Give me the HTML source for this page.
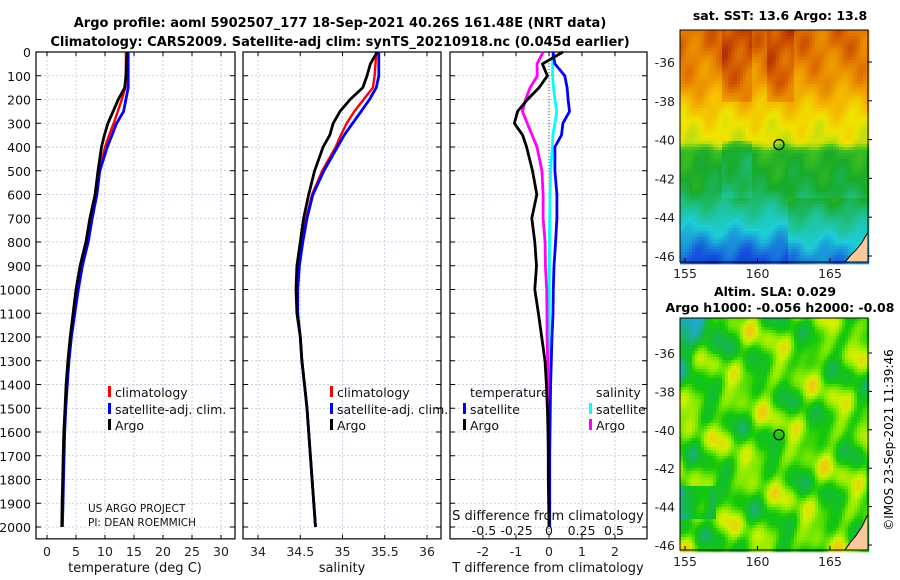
<!DOCTYPE html>
<html><head><meta charset="utf-8"><style>
body{margin:0;background:#fff;}
svg{display:block;font-family:"DejaVu Sans","Liberation Sans",sans-serif;}
</style></head><body>
<svg id="c" width="900" height="580" viewBox="0 0 900 580">
<text x="340" y="27" text-anchor="middle" font-size="13" font-weight="bold">Argo profile: aoml 5902507_177 18-Sep-2021 40.26S 161.48E (NRT data)</text>
<text x="340" y="46" text-anchor="middle" font-size="13" font-weight="bold">Climatology: CARS2009. Satellite-adj clim: synTS_20210918.nc (0.045d earlier)</text>
<text x="780" y="20" text-anchor="middle" font-size="12.5" font-weight="bold">sat. SST: 13.6 Argo: 13.8</text>
<text x="775" y="296" text-anchor="middle" font-size="12.5" font-weight="bold">Altim. SLA: 0.029</text>
<text x="780" y="312" text-anchor="middle" font-size="12.5" font-weight="bold">Argo h1000: -0.056 h2000: -0.08</text>
<text transform="translate(893,440) rotate(-90)" text-anchor="middle" font-size="12">©IMOS 23-Sep-2021 11:39:46</text>
<g id="g"></g>
</svg>
<script>
// depth levels (m)
const depthT = [0,50,100,150,200,250,300,350,400,500,600,700,800,900,1000,1100,1200,1300,1400,1500,1600,1700,1800,1900,2000];
const tempArgo = [13.8,13.7,13.6,13.4,12.3,11.4,10.5,9.9,9.4,8.8,8.3,7.4,6.7,5.7,5.0,4.5,4.0,3.6,3.3,3.1,2.9,2.8,2.7,2.6,2.55];
const tempClim = [13.6,13.6,13.6,13.5,12.9,12.2,11.5,10.7,10.0,9.0,8.4,7.6,6.9,5.9,5.2,4.6,4.1,3.7,3.4,3.2,3.0,2.9,2.8,2.7,2.6];
const tempSat = [14.0,14.0,14.0,14.0,13.6,13.2,12.0,11.2,10.4,9.1,8.6,7.8,7.1,6.1,5.4,4.8,4.2,3.8,3.5,3.25,3.05,2.95,2.85,2.75,2.65];
const salArgo = [35.41,35.33,35.29,35.24,35.09,34.97,34.89,34.85,34.77,34.67,34.60,34.54,34.50,34.46,34.45,34.46,34.50,34.52,34.55,34.58,34.60,34.62,34.64,34.66,34.68];
const salClim = [35.40,35.39,35.38,35.36,35.25,35.14,35.05,34.98,34.92,34.76,34.64,34.57,34.52,34.48,34.46,34.47,34.50,34.52,34.55,34.58,34.60,34.62,34.64,34.66,34.68];
const salSat = [35.43,35.43,35.43,35.40,35.32,35.22,35.12,35.02,34.94,34.78,34.65,34.58,34.53,34.49,34.47,34.47,34.50,34.52,34.55,34.58,34.60,34.62,34.64,34.66,34.68];
const dTArgo = [0.42,-0.2,-0.05,-0.3,-0.65,-0.95,-1.05,-0.8,-0.68,-0.5,-0.37,-0.52,-0.43,-0.38,-0.43,-0.32,-0.22,-0.12,-0.08,-0.05,-0.03,-0.02,-0.02,-0.01,0];
const dTSat = [0.12,0.18,0.48,0.55,0.58,0.62,0.42,0.38,0.18,0.18,0.24,0.24,0.2,0.15,0.13,0.12,0.09,0.07,0.05,0.04,0.03,0.02,0.02,0.02,0.02];
const dSArgo = [-0.045,-0.092,-0.09,-0.145,-0.18,-0.205,-0.167,-0.13,-0.092,-0.055,-0.045,-0.045,-0.03,-0.028,-0.018,-0.015,-0.015,-0.01,-0.008,-0.005,-0.004,-0.003,-0.002,-0.001,0];
const dSSat = [0.03,0.028,0.028,0.035,0.045,0.06,0.045,0.03,0.025,0.012,0.008,0.005,0.004,0.003,0.002,0.002,0.002,0.001,0.001,0.001,0.001,0.001,0.001,0.001,0];
const depthTicks = [0,100,200,300,400,500,600,700,800,900,1000,1100,1200,1300,1400,1500,1600,1700,1800,1900,2000];
const tTicks = [0,5,10,15,20,25,30];
const sTicks = [34,34.5,35,35.5,36];
const dTTicks = [-2,-1,0,1,2];
const dSTicks = [-0.5,-0.25,0,0.25,0.5];
const dSTickLabels = ['-0.5','-0.25','0','0.25','0.5'];
const latTicks = [-36,-38,-40,-42,-44,-46];
const lonTicks = [155,160,165];
const argoLon = 161.48, argoLat = -40.26;

const NS='http://www.w3.org/2000/svg';
const G=document.getElementById('g');
function mk(tag,attrs,parent){const e=document.createElementNS(NS,tag);for(const k in attrs)e.setAttribute(k,attrs[k]);(parent||G).appendChild(e);return e;}
const yD = d => 52 + d*0.2375;
const Y0=52, Y1=yD(2050);
function panel(x0,x1,xs,ticks,labels,name){
  const g=mk('g',{});
  
  
  ticks.forEach((t,i)=>{const x=xs(t);
    const l=mk('line',{x1:x,x2:x,y1:Y0,y2:Y1,stroke:'#b8c4e0','stroke-width':0.8,'stroke-dasharray':'2,2'},g);
    
    mk('line',{x1:x,x2:x,y1:Y1,y2:Y1-4,stroke:'#000'},g);mk('line',{x1:x,x2:x,y1:Y0,y2:Y0+4,stroke:'#000'},g);
    if(labels){const tx=mk('text',{x:x,y:556,'text-anchor':'middle','font-size':12.5,fill:'#222'},g);tx.textContent=labels[i];
      }
  });
  depthTicks.forEach(d=>{const y=yD(d);
    const l=mk('line',{x1:x0,x2:x1,y1:y,y2:y,stroke:'#b8c4e0','stroke-width':0.8,'stroke-dasharray':'2,2'},g);
    
    mk('line',{x1:x0,x2:x0+5,y1:y,y2:y,stroke:'#000'},g);mk('line',{x1:x1,x2:x1-5,y1:y,y2:y,stroke:'#000'},g);});
  const r=mk('rect',{x:x0,y:Y0,width:x1-x0,height:Y1-Y0,fill:'none',stroke:'#000','stroke-width':1.2},g);
  
  return g;
}
function line(g,xs,vals,color,w,name){
  const pts=vals.map((v,i)=>xs(v).toFixed(1)+','+yD(depthT[i]).toFixed(1)).join(' ');
  const p=mk('polyline',{points:pts,fill:'none',stroke:color,'stroke-width':w,'stroke-linejoin':'round'},g);
  
}
function txt(x,y,s,size,name,anchor){const t=mk('text',{x:x,y:y,'font-size':size,'text-anchor':anchor||'start',fill:'#111'});t.textContent=s;
  return t;}
function leg(x,y,color,label,name){const r=mk('rect',{x:x,y:y-11,width:3,height:11,fill:color});
  
  txt(x+7,y,label,12.5,name);}

// Panel 1 temperature
const xT = t => 47 + t*5.8;
const p1=panel(36,235,xT,tTicks,tTicks.map(String),'temperature-panel');
line(p1,xT,tempClim,'#f00',2.4,'temperature-climatology-line');
line(p1,xT,tempSat,'#00f',2.8,'temperature-satellite-line');
line(p1,xT,tempArgo,'#000',2.8,'temperature-argo-line');
depthTicks.forEach(d=>txt(31,yD(d)+5,String(d),12.5,'depth-tick-label','end'));
txt(135,572,'temperature (deg C)',13,'temperature-axis-title','middle');
leg(108,397,'#f00','climatology','legend-climatology');
leg(108,414,'#00f','satellite-adj. clim.','legend-satellite-clim');
leg(108,430,'#000','Argo','legend-argo');
txt(88,512,'US ARGO PROJECT',10.5,'project-label');
txt(88,526,'PI: DEAN ROEMMICH',10.5,'pi-label');

// Panel 2 salinity
const xS = s => 258 + (s-34)*84.5;
const p2=panel(243,441,xS,sTicks,['34','34.5','35','35.5','36'],'salinity-panel');
line(p2,xS,salClim,'#f00',2.4,'salinity-climatology-line');
line(p2,xS,salSat,'#00f',2.8,'salinity-satellite-line');
line(p2,xS,salArgo,'#000',2.8,'salinity-argo-line');
txt(342,572,'salinity',13,'salinity-axis-title','middle');
leg(330,397,'#f00','climatology','legend-climatology-sal');
leg(330,414,'#00f','satellite-adj. clim.','legend-satellite-clim-sal');
leg(330,430,'#000','Argo','legend-argo-sal');

// Panel 3 differences
const xdT = v => 549 + v*33;
const xdS = v => 549 + v*130;
const p3=panel(450,647,xdT,dTTicks,dTTicks.map(String),'difference-panel');
const z=mk('line',{x1:549,x2:549,y1:Y0+8,y2:Y1,stroke:'#555','stroke-dasharray':'1,2'},p3);

line(p3,xdS,dSSat,'#0ff',2.8,'salinity-satellite-diff-line');
line(p3,xdS,dSArgo,'#f0f',2.8,'salinity-argo-diff-line');
line(p3,xdT,dTSat,'#00f',2.8,'temperature-satellite-diff-line');
line(p3,xdT,dTArgo,'#000',2.8,'temperature-argo-diff-line');
txt(548,572,'T difference from climatology',13,'t-diff-axis-title','middle');
txt(548,520,'S difference from climatology',13,'s-diff-axis-title','middle');
dSTicks.forEach((v,i)=>txt(xdS(v),535,dSTickLabels[i],12.5,'s-diff-tick-label','middle'));
txt(470,397,'temperature',12.5,'legend-temperature-header');
txt(596,397,'salinity',12.5,'legend-salinity-header');
leg(463,414,'#00f','satellite','legend-t-satellite');
leg(463,430,'#000','Argo','legend-t-argo');
leg(589,414,'#0ff','satellite','legend-s-satellite');
leg(589,430,'#f0f','Argo','legend-s-argo');

// Maps
const cmapStops=[[0,[10,30,150]],[0.15,[20,80,220]],[0.3,[30,205,215]],[0.42,[30,190,130]],[0.52,[25,170,40]],[0.6,[70,195,30]],[0.66,[180,220,20]],[0.72,[240,228,0]],[0.8,[245,180,0]],[0.88,[230,130,0]],[0.95,[200,70,0]],[1,[150,20,0]]];
function cmap(v){v=Math.max(0,Math.min(1,v));
  for(let i=1;i<cmapStops.length;i++){const a=cmapStops[i-1],b=cmapStops[i];
    if(v<=b[0]){const f=(v-a[0])/(b[0]-a[0]);const c=a[1].map((x,k)=>Math.round(x+(b[1][k]-x)*f));return 'rgb('+c.join(',')+')';}}
  return 'rgb(150,20,0)';}
const slaStops=[[0,[30,170,200]],[0.3,[20,185,60]],[0.5,[20,200,10]],[0.7,[130,235,0]],[0.85,[210,240,0]],[1,[240,200,20]]];
function slamap(v){v=Math.max(0,Math.min(1,v));
  for(let i=1;i<slaStops.length;i++){const a=slaStops[i-1],b=slaStops[i];
    if(v<=b[0]){const f=(v-a[0])/(b[0]-a[0]);const c=a[1].map((x,k)=>Math.round(x+(b[1][k]-x)*f));return 'rgb('+c.join(',')+')';}}
  return 'rgb(240,200,20)';}
function interp(xs,ys,x){if(x>=xs[0])return ys[0];for(let i=1;i<xs.length;i++){if(x>=xs[i]){const f=(x-xs[i-1])/(xs[i]-xs[i-1]);return ys[i-1]+(ys[i]-ys[i-1])*f;}}return ys[ys.length-1];}
function mapPanel(top,latTop,sc,field,cm,landH,name){
  const x0=680,x1=868,y1=top+232;
  const lonX=l=>685+(l-155)*14.5, latY=a=>latTop+(-36-a)*sc;
  const g=mk('g',{});
  const cs=3;
  for(let y=top;y<y1;y+=cs)for(let x=x0;x<x1;x+=cs){
    const lon=155+(x-685)/14.5, lat=-36-(y-latTop)/sc;
    mk('rect',{x:x,y:y,width:cs+0.3,height:cs+0.3,fill:cm(field(lon,lat))},g);}
  const land=mk('polygon',{points:`868,${y1-landH} 862,${y1-landH*0.65} 856,${y1-landH*0.4} 850,${y1-landH*0.2} 845,${y1} 868,${y1}`,fill:'#f9c89b',stroke:'#000','stroke-width':1},g);
  
  const m=mk('circle',{cx:lonX(argoLon),cy:latY(argoLat),r:5,fill:'none',stroke:'#000','stroke-width':1.2},g);
  
  mk('rect',{x:x0,y:top,width:x1-x0,height:y1-top,fill:'none',stroke:'#000'},g);
  latTicks.forEach(a=>{const y=latY(a);mk('line',{x1:x1,x2:x1+4,y1:y,y2:y,stroke:'#000'},g);
    const t=mk('text',{x:675,y:y+5,'text-anchor':'end','font-size':12.5,fill:'#222'},g);t.textContent=String(a);
    });
  lonTicks.forEach(l=>{const x=lonX(l);mk('line',{x1:x,x2:x,y1:y1,y2:y1-4,stroke:'#000'},g);
    const t=mk('text',{x:x,y:y1+16,'text-anchor':'middle','font-size':12.5,fill:'#222'},g);t.textContent=String(l);
    });
}
const sstLat=[-35,-37,-38,-39,-40,-40.6,-42.5,-43.5,-44.5,-45.5,-46.5];
const sstVal=[0.9,0.85,0.79,0.73,0.7,0.55,0.5,0.4,0.3,0.2,0.12];
mapPanel(30,62,19.4,(lon,lat)=>{
  let v=interp(sstLat,sstVal,lat);
  v+=0.025*Math.sin(lon*2.1+lat*1.3)+0.015*Math.sin(lon*3.7-lat*2.9);
  if(lat>-38&&((lon>157.5&&lon<159.5)||(lon>160.5&&lon<162.5))) v+=0.05;
  if(lat<-40&&lat>-43&&lon>157.5&&lon<159.5) v-=0.05;
  if(lat<-43&&lon>162) v+=0.06;
  return v;
},cmap,30,'sst-map');
mapPanel(318,353,19.2,(lon,lat)=>{
  let v=0.6+0.16*Math.sin(lon*1.13+lat*1.71)+0.12*Math.sin(lon*2.37-lat*0.93)+0.09*Math.sin(lon*0.61+lat*3.1)+0.06*Math.sin(lon*4.3-lat*2.2);
  if(lon<158&&lat>-37.5) v-=0.35*(1-(lon-155)/3)*(1-(-35.5-lat)/2);
  if(lon<157&&lat<-42.8&&lat>-44.6) v-=0.3;
  return v;
},slamap,36,'sla-map');
</script>
</body></html>
